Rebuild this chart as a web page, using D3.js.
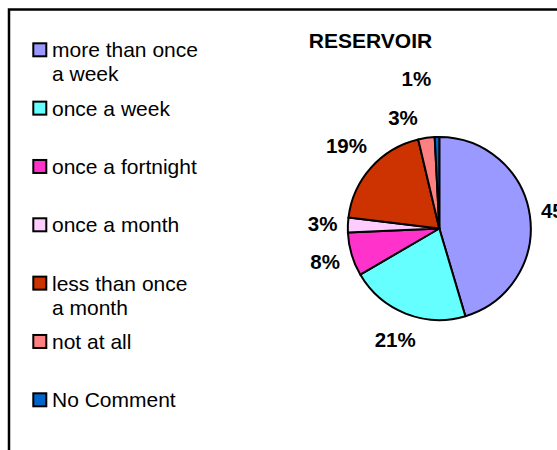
<!DOCTYPE html>
<html>
<head>
<meta charset="utf-8">
<script src="https://cdn.jsdelivr.net/npm/d3@7"></script>
<style>
  body { margin: 0; background: #fff; }
  svg { display: block; font-family: Arial, 'Liberation Sans', sans-serif; }
  .rotulo { font-weight: bold; font-size: 20.5px; fill: #000; }
  .titulo { font-weight: bold; font-size: 21px; fill: #000; }
  .itemlegenda { font-size: 21px; fill: #000; }
</style>
</head>
<body>
<svg id="grafico"></svg>
<script>
//Dados do gráfico
var categorias = ['more than once a week', 'once a week', 'once a fortnight', 'once a month',
                  'less than once a month', 'not at all', 'No Comment'];
var valores = [45.4, 21.2, 7.7, 2.6, 19.4, 2.9, 0.8];
var cores = ['#9999FF', '#66FFFF', '#FF33CC', '#FFCCFF', '#CC3300', '#FF8080', '#0066CC'];
var titulo = 'RESERVOIR';

function GraficoDePizza(parametros) {

    //Seleção do elemento SVG
    var svg = d3.select(parametros.seletor)
                .attr('width', parametros.largura)
                .attr('height', parametros.altura);

    //Moldura do gráfico (continua além da borda direita e inferior)
    svg.append('rect')
        .attr('x', 9)
        .attr('y', 9.5)
        .attr('width', parametros.largura + 50)
        .attr('height', parametros.altura + 50)
        .attr('fill', 'none')
        .attr('stroke', '#000')
        .attr('stroke-width', 2.5);

    var centro = {x: 439.3, y: 228.5};
    var raio = 91.5;

    var cor = d3.scaleOrdinal()
                .domain(parametros.dados.map(d => d.chave))
                .range(parametros.cores);

    //Título
    svg.append('text')
        .attr('x', 370.5)
        .attr('y', 47.5)
        .style('text-anchor', 'middle')
        .text(parametros.titulo)
        .classed('titulo', true);

    //Criação da área da pizza
    var plotagem = svg.append('g')
                      .attr('id', 'plotagem')
                      .attr('transform', 'translate(' + centro.x + ',' + centro.y + ')');

    var pizza = d3.pie()
                  .sort(null)
                  .value(d => d.valor);
    var arco = d3.arc()
                 .innerRadius(0)
                 .outerRadius(raio);

    var fatias = pizza(parametros.dados);

    plotagem.selectAll('.fatia')
            .data(fatias)
            .enter()
            .append('path')
            .classed('fatia', true)
            .attr('d', arco)
            .attr('fill', d => cor(d.data.chave))
            .attr('stroke', '#000')
            .attr('stroke-width', 2)
            .attr('stroke-linejoin', 'round');

    //Rótulos de porcentagem
    var total = d3.sum(parametros.dados, d => d.valor);
    var formato = d3.format('.0%');
    var alturaCaixa = 23, folga = 10, giro = 10 * Math.PI / 180, espacamento = 39;

    var rotulos = fatias.map(function(d) {
        var t = plotagem.append('text')
                        .classed('rotulo', true)
                        .style('text-anchor', 'middle')
                        .attr('dy', '0.36em')
                        .text(formato(d.value / total));
        return {no: t, largura: t.node().getComputedTextLength(), angulo: (d.startAngle + d.endAngle) / 2};
    });

    function posicione(r, angulo) {
        var ext = r.largura / 2 * Math.abs(Math.sin(angulo)) + alturaCaixa / 2 * Math.abs(Math.cos(angulo));
        var dist = raio + folga + ext;
        r.x = dist * Math.sin(angulo);
        r.y = -dist * Math.cos(angulo);
    }

    rotulos.forEach(function(r, i) {
        posicione(r, r.angulo);
        for (var j = 0; j < i; j++) {
            var o = rotulos[j];
            if (Math.abs(r.x - o.x) < (r.largura + o.largura) / 2 && Math.abs(r.y - o.y) < alturaCaixa) {
                //Sobreposição: gira os dois no sentido anti-horário e empilha
                posicione(o, o.angulo - giro);
                posicione(r, r.angulo - giro);
                r.y = o.y - espacamento;
            }
        }
    });

    rotulos.forEach(function(r) {
        r.no.attr('x', r.x).attr('y', r.y);
    });

    //Legenda
    var yLegenda = d3.scaleLinear()
                     .domain([0, parametros.dados.length - 1])
                     .range([57.3, 407.3]);

    var itens = svg.append('g')
                   .attr('id', 'legenda')
                   .selectAll('.item')
                   .data(parametros.dados)
                   .enter()
                   .append('g')
                   .classed('item', true)
                   .attr('transform', (d, i) => 'translate(0,' + yLegenda(i) + ')');

    itens.append('rect')
         .attr('x', 33.3)
         .attr('y', -14)
         .attr('width', 13)
         .attr('height', 13)
         .attr('fill', d => cor(d.chave))
         .attr('stroke', '#000')
         .attr('stroke-width', 2);

    itens.append('text')
         .classed('itemlegenda', true)
         .attr('x', 52)
         .attr('y', 0)
         .each(function(d) {
             quebreTexto(d3.select(this), d.chave, 148, 52, 24);
         });

    //Quebra de linha do texto conforme largura máxima
    function quebreTexto(texto, conteudo, larguraMax, x, alturaLinha) {
        var palavras = conteudo.split(' ');
        var linha = [];
        var tspan = texto.append('tspan').attr('x', x).attr('dy', 0);
        palavras.forEach(function(p) {
            linha.push(p);
            tspan.text(linha.join(' '));
            if (tspan.node().getComputedTextLength() > larguraMax && linha.length > 1) {
                linha.pop();
                tspan.text(linha.join(' '));
                linha = [p];
                tspan = texto.append('tspan').attr('x', x).attr('dy', alturaLinha).text(p);
            }
        });
    }
}

new GraficoDePizza({
    seletor: '#grafico',
    largura: 557,
    altura: 450,
    titulo: titulo,
    cores: cores,
    dados: categorias.map((c, i) => ({chave: c, valor: valores[i]}))
});
</script>
</body>
</html>
